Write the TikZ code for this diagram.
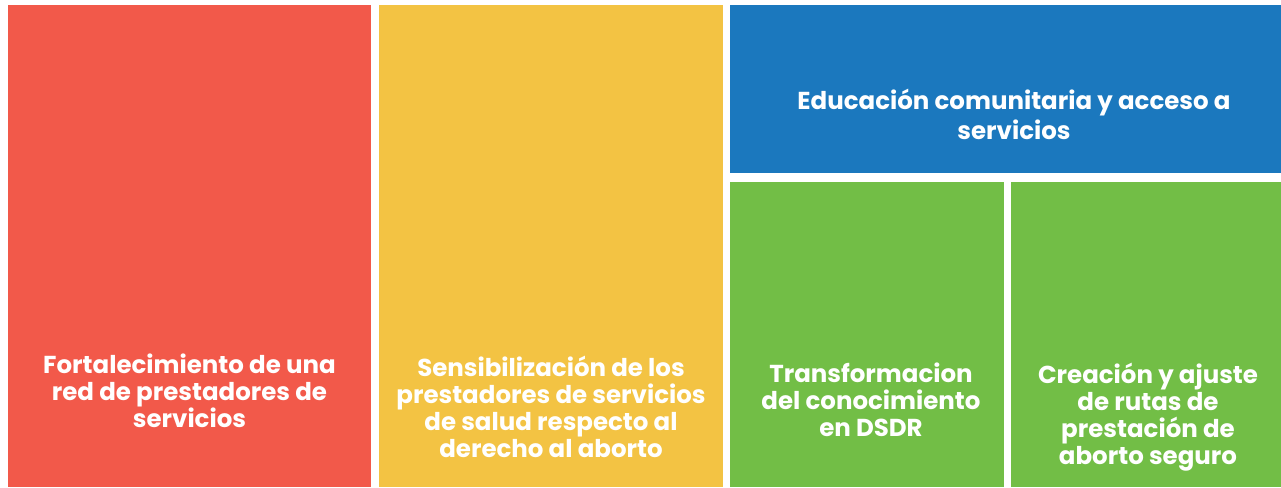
\documentclass[tikz,border=0pt]{standalone}
\usepackage{fontspec}
\setmainfont{Poppins}
\definecolor{cred}{HTML}{F2594A}
\definecolor{cyel}{HTML}{F3C343}
\definecolor{cblue}{HTML}{1B78BE}
\definecolor{cgreen}{HTML}{72BE46}
\begin{document}
\begin{tikzpicture}[x=1pt,y=-1pt,
  lbl/.style={text=white,font=\bfseries\fontsize{24.5}{27}\selectfont,align=center,inner sep=0pt}]
\useasboundingbox (0,0) rectangle (1281,487);
\fill[white] (0,0) rectangle (1281,487);
\fill[cred] (8,5) rectangle (371,487);
\fill[cyel] (379,5) rectangle (723,487);
\fill[cblue] (730,5) rectangle (1281,173);
\fill[cgreen] (730,182) rectangle (1004,487);
\fill[cgreen] (1011,182) rectangle (1281,487);
\node[lbl] (t1) at (189.5,391) {Fortalecimiento de una\\red de prestadores de\\servicios};
\node[lbl] (t2) at (551,407) {Sensibilización de los\\prestadores de servicios\\de salud respecto al\\derecho al aborto};
\node[lbl,font=\bfseries\fontsize{24.5}{30}\selectfont] (t3) at (1014,114) {Educación comunitaria y acceso a\\servicios};
\node[lbl] (t4) at (871,400) {Transformacion\\del conocimiento\\en DSDR};
\node[lbl] (t5) at (1148,417.5) {Creación y ajuste\\de rutas de\\prestación de\\aborto seguro};
\end{tikzpicture}
\end{document}
